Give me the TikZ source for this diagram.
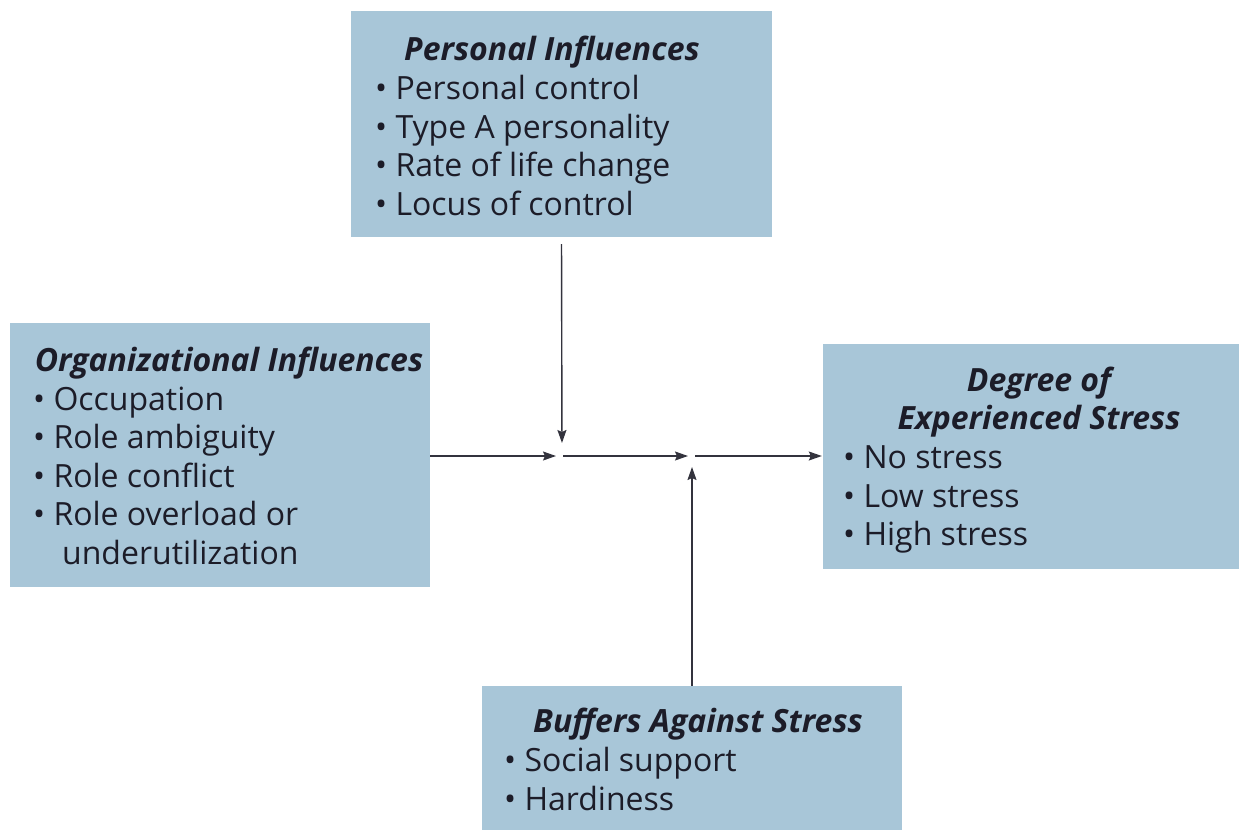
\documentclass[tikz,border=0pt]{standalone}
\usepackage{fontspec}
\setmainfont{Open Sans}
\usetikzlibrary{arrows.meta}
\definecolor{boxblue}{HTML}{A8C6D8}
\definecolor{ink}{HTML}{1C1C28}
\tikzset{
  box/.style={draw=none, fill=boxblue, rectangle, inner sep=0pt},
  txt/.style={anchor=base west, inner sep=0pt, text=ink, font=\fontsize{32}{38}\selectfont},
  ttl/.style={anchor=base, inner sep=0pt, text=ink, font=\fontsize{32}{38}\selectfont\bfseries\itshape},
  conn/.style={line width=1.4pt, color=ink!90, -{Stealth[length=13pt,width=9pt,inset=2pt]}}
}
\begin{document}
\begin{tikzpicture}[x=1pt,y=-1pt]
\useasboundingbox (0,0) rectangle (1239,830);
% boxes
\node[box, minimum width=421pt, minimum height=226pt] (pers) at (561.5,124) {};
\node[box, minimum width=420pt, minimum height=264pt] (org) at (220,455) {};
\node[box, minimum width=416pt, minimum height=225pt] (deg) at (1031,456.5) {};
\node[box, minimum width=420pt, minimum height=144pt] (buf) at (692,758) {};
% personal
\node[ttl] (p0) at (552,60.5) {Personal Influences};
\node[txt] (p1) at (375,99.5) {• Personal control};
\node[txt] (p2) at (375,138) {• Type A personality};
\node[txt] (p3) at (375,176.5) {• Rate of life change};
\node[txt] (p4) at (375,215) {• Locus of control};
% organizational
\node[ttl] (o0) at (229,371.5) {Organizational Influences};
\node[txt] (o1) at (33,410) {• Occupation};
\node[txt] (o2) at (33,448.5) {• Role ambiguity};
\node[txt] (o3) at (33,487) {• Role conflict};
\node[txt] (o4) at (33,525.5) {• Role overload or};
\node[txt] (o5) at (62,564) {underutilization};
% degree
\node[ttl] (d0) at (1039,391.5) {Degree of};
\node[ttl] (d1) at (1039,429.5) {Experienced Stress};
\node[txt] (d2) at (843,468.5) {• No stress};
\node[txt] (d3) at (843,507) {• Low stress};
\node[txt] (d4) at (843,545.5) {• High stress};
% buffers
\node[ttl] (b0) at (698,732.5) {Buffers Against Stress};
\node[txt] (b1) at (504,771.5) {• Social support};
\node[txt] (b2) at (504,810) {• Hardiness};
% junctions
\coordinate (j1) at (562,456);
\coordinate (j2) at (692,456);
% connectors
\draw[conn, shorten <=7pt, shorten >=13pt] (pers.south) -- (j1);
\draw[conn, shorten >=6pt] (org.east |- j1) -- (j1);
\draw[conn, shorten <=1pt, shorten >=4pt] (j1) -- (j2);
\draw[conn, shorten <=3pt, shorten >=1pt] (j2) -- (deg.west |- j2);
\draw[conn, shorten >=11pt] (buf.north) -- (j2);
\end{tikzpicture}
\end{document}
